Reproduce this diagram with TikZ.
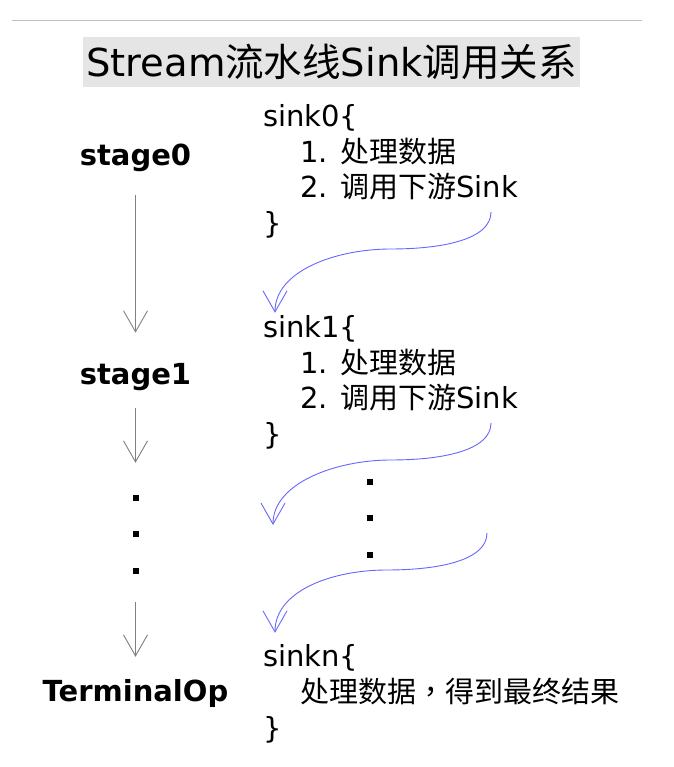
\documentclass[tikz,border=0pt]{standalone}
\usepackage{fontspec}
\setmainfont{DejaVu Sans}
\newfontfamily\cjk{Noto Sans CJK SC}
\newfontfamily\cjktc{Noto Sans CJK TC}
\newcommand\zh[1]{{\cjk #1}}
\usepackage{tikz}
\usetikzlibrary{positioning,arrows.meta,calc}

\begin{document}
\begin{tikzpicture}[
  x=1pt, y=1pt,
  title/.style={fill=gray!20, inner xsep=1pt, minimum width=497pt,
                minimum height=50pt, font=\fontsize{38.5}{44}\selectfont},
  stage/.style={inner sep=0pt, anchor=base, font=\bfseries\fontsize{29}{34}\selectfont},
  code/.style ={inner sep=0pt, anchor=base west, font=\fontsize{29}{34}\selectfont},
  dot/.style  ={fill=black, inner sep=0pt, minimum size=6pt},
  flow/.style ={draw=gray, line width=0.9pt, -{Straight Barb[length=21pt,width=24pt]}},
  call/.style ={draw=blue!60, line width=0.9pt, -{Straight Barb[length=21pt,width=24pt]}},
]
\useasboundingbox (0,0) rectangle (673,767);
\draw[gray!50, line width=1pt] (12,746) -- (642,746);

\node[title] (title) at (331.5,705) {Stream\zh{流水线}Sink\zh{调用关系}};

\node[stage] (st0) at (135.5,601) {stage0};
\node[stage] (st1) at (135.5,382) {stage1};
\node[dot] (ld1) at (135.5,269) {};
\node[dot] (ld2) at (135.5,233) {};
\node[dot] (ld3) at (135.5,196) {};
\node[stage] (term) at (135.5,65) {TerminalOp};

\draw[flow, shorten <=23pt, shorten >=31pt] (st0) -- (st1);
\draw[flow, shorten <=17pt, shorten >=32pt] (st1) -- (ld1);
\draw[flow, shorten <=28pt, shorten >=23pt] (ld3) -- (term);

\foreach \i/\y in {0/640,1/429}{
  \node[code] (s\i)  at (263,\y)     {sink\i\{};
  \node[code] (s\i a) at (300,\y-36)  {1. \zh{处理数据}};
  \node[code] (s\i b) at (300,\y-71)  {2. \zh{调用下游}Sink};
  \node[code] (s\i c) at (263,\y-107) {\}};
  \coordinate (c\i) at ([xshift=-27pt,yshift=-14pt]s\i b.base east);
}

\node[dot] (rd1) at (370,285) {};
\node[dot] (rd2) at (370,249) {};
\node[dot] (rd3) at (370,212) {};

\node[code] (sn)  at (263,100) {sinkn\{};
\node[code] (sna) at (300,64)  {\zh{处理数据}{\cjktc ，}\zh{得到最终结果}};
\node[code] (snc) at (263,28)  {\}};

\coordinate (c2) at (487,234);
\coordinate (t1) at (273,242);

\draw[call] (c0) .. controls +(0,-28) and +(50,0) .. ++(-100,-37)
  .. controls +(-55,0) and +(0,42) .. ([xshift=12pt,yshift=3pt]s1.north west);
\draw[call] (c1) .. controls +(0,-28) and +(50,0) .. ++(-100,-37)
  .. controls +(-55,0) and +(0,42) .. (t1);
\draw[call] (c2) .. controls +(0,-28) and +(50,0) .. ++(-100,-37)
  .. controls +(-55,0) and +(0,42) .. ([xshift=12pt,yshift=12pt]sn.north west);

\end{tikzpicture}
\end{document}
